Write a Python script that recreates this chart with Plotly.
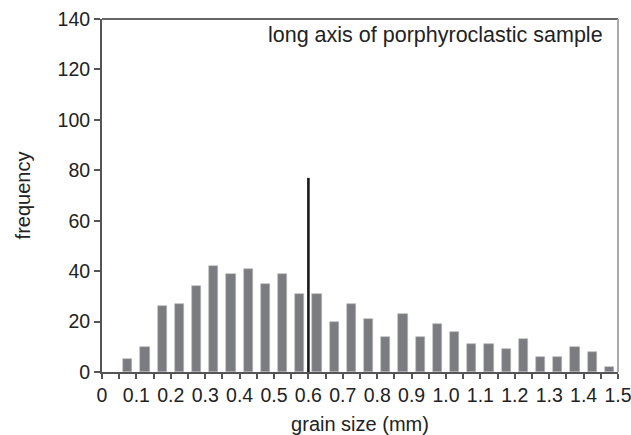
import plotly.graph_objects as go

# Data
bin_centers = [0.075, 0.125, 0.175, 0.225, 0.275, 0.325, 0.375, 0.425, 0.475, 0.525,
               0.575, 0.625, 0.675, 0.725, 0.775, 0.825, 0.875, 0.925, 0.975, 1.025,
               1.075, 1.125, 1.175, 1.225, 1.275, 1.325, 1.375, 1.425, 1.475]
frequency = [5, 10, 26, 27, 34, 42, 39, 41, 35, 39,
             31, 31, 20, 27, 21, 14, 23, 14, 19, 16,
             11, 11, 9, 13, 6, 6, 10, 8, 2]
x_tick_values = [0, 0.05, 0.1, 0.15, 0.2, 0.25, 0.3, 0.35, 0.4, 0.45, 0.5, 0.55, 0.6, 0.65,
                 0.7, 0.75, 0.8, 0.85, 0.9, 0.95, 1.0, 1.05, 1.1, 1.15, 1.2, 1.25, 1.3,
                 1.35, 1.4, 1.45, 1.5]
x_tick_labels = ["0", "", "0.1", "", "0.2", "", "0.3", "", "0.4", "", "0.5", "", "0.6", "",
                 "0.7", "", "0.8", "", "0.9", "", "1.0", "", "1.1", "", "1.2", "", "1.3",
                 "", "1.4", "", "1.5"]
y_tick_values = [0, 20, 40, 60, 80, 100, 120, 140]
marker_x = [0.6, 0.6]
marker_y = [0, 77]
annotation_text = "long axis of porphyroclastic sample"

FONT = "Liberation Sans, Arial, sans-serif"

fig = go.Figure()
fig.add_trace(go.Bar(
    x=bin_centers, y=frequency, width=0.027,
    marker=dict(color="#7b7c80", line=dict(color="#b8b8b8", width=0.6)),
    showlegend=False,
))
fig.add_trace(go.Scatter(
    x=marker_x, y=marker_y, mode="lines",
    line=dict(color="#1a1a1a", width=2.6), showlegend=False,
))

fig.update_layout(
    width=631, height=435,
    margin=dict(l=102, r=13, t=19, b=63),
    paper_bgcolor="white", plot_bgcolor="white",
    font=dict(family=FONT, size=20, color="#222"),
    bargap=0,
    xaxis=dict(
        range=[0, 1.5], tickmode="array", tickvals=x_tick_values, ticktext=x_tick_labels,
        showgrid=False, zeroline=False, showline=True, linecolor="#555", linewidth=2,
        ticks="outside", ticklen=5, tickcolor="#555", tickwidth=1.5,
        ticklabeloverflow="allow", automargin=False,
        tickfont=dict(size=19.5, family=FONT, color="#222"),
        title=dict(text="grain size (mm)", font=dict(size=20, family=FONT, color="#222"), standoff=12),
    ),
    yaxis=dict(
        range=[0, 140], tickmode="array", tickvals=y_tick_values,
        showgrid=False, zeroline=False, showline=True, linecolor="#555", linewidth=2,
        ticks="outside", ticklen=6, tickcolor="#555", tickwidth=1.5,
        automargin=False,
        tickfont=dict(size=19.5, family=FONT, color="#222"),
        title=dict(text="frequency", font=dict(size=20, family=FONT, color="#222"), standoff=22),
    ),
    shapes=[
        dict(type="line", xref="paper", yref="paper", x0=0, x1=1, y0=1, y1=1,
             line=dict(color="#666", width=2)),
        dict(type="line", xref="paper", yref="paper", x0=1, x1=1, y0=0, y1=1,
             line=dict(color="#aaa", width=2)),
    ],
    annotations=[
        dict(text=annotation_text, xref="paper", yref="paper", x=0.975, y=0.995,
             xanchor="right", yanchor="top", showarrow=False,
             font=dict(size=21.5, family=FONT, color="#222")),
    ],
)

fig.write_html("out.html", config={"displayModeBar": False},
               post_script="document.body.style.margin='0';document.body.style.overflow='hidden';")
